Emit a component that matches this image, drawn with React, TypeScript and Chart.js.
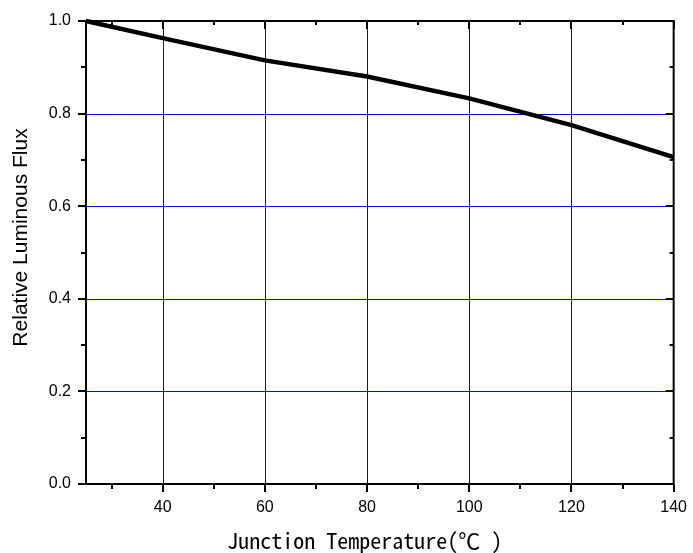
import React, { useEffect, useRef } from "react";
import { Chart, registerables } from "chart.js";

Chart.register(...registerables);

const temperatures = [25, 40, 60, 80, 100, 120, 140];
const relativeFlux = [1.0, 0.963, 0.915, 0.88, 0.833, 0.775, 0.706];
const xMajorTicks = [40, 60, 80, 100, 120, 140];
const xMinorTicks = [30, 50, 70, 90, 110, 130];
const xGridLines = [40, 60, 80, 100, 120];
const yMajorTicks = [0, 0.2, 0.4, 0.6, 0.8, 1.0];
const yMinorTicks = [0.1, 0.3, 0.5, 0.7, 0.9];
const yGridLines = [0.2, 0.4, 0.6, 0.8];
const xTitle = "Junction Temperature(\u2103 )";
const yTitle = "Relative Luminous Flux";

const gridPlugin = {
  id: "blueGrid",
  beforeDatasetsDraw(chart: any) {
    const { ctx, chartArea, scales } = chart;
    const { left, right, top, bottom } = chartArea;
    ctx.save();
    ctx.strokeStyle = "#0000ff";
    ctx.lineWidth = 1;
    ctx.beginPath();
    xGridLines.forEach((v) => {
      const px = Math.round(scales.x.getPixelForValue(v)) + 0.5;
      ctx.moveTo(px, top);
      ctx.lineTo(px, bottom);
    });
    yGridLines.forEach((v) => {
      const py = Math.round(scales.y.getPixelForValue(v)) + 0.5;
      ctx.moveTo(left, py);
      ctx.lineTo(right, py);
    });
    ctx.stroke();
    ctx.restore();
  },
};

const framePlugin = {
  id: "frame",
  afterDraw(chart: any) {
    const { ctx, chartArea, scales } = chart;
    const xs = scales.x;
    const ys = scales.y;
    const { left, right, top, bottom } = chartArea;
    ctx.save();
    ctx.strokeStyle = "#000";
    ctx.lineWidth = 2;
    ctx.strokeRect(left, top, right - left, bottom - top);
    ctx.beginPath();
    xMinorTicks.forEach((v) => {
      const px = Math.round(xs.getPixelForValue(v));
      ctx.moveTo(px, bottom);
      ctx.lineTo(px, bottom + 5);
      ctx.moveTo(px, top);
      ctx.lineTo(px, top + 4);
    });
    xMajorTicks.forEach((v) => {
      const px = Math.round(xs.getPixelForValue(v));
      ctx.moveTo(px, top);
      ctx.lineTo(px, top + 8);
    });
    yMinorTicks.forEach((v) => {
      const py = Math.round(ys.getPixelForValue(v));
      ctx.moveTo(left, py);
      ctx.lineTo(left - 5, py);
      ctx.moveTo(right, py);
      ctx.lineTo(right - 4, py);
    });
    yMajorTicks.forEach((v) => {
      const py = Math.round(ys.getPixelForValue(v));
      ctx.moveTo(right, py);
      ctx.lineTo(right - 8, py);
    });
    ctx.stroke();

    ctx.fillStyle = "#000";
    ctx.font = '22px "Noto Sans Mono CJK KR", "Liberation Mono", monospace';
    ctx.textAlign = "center";
    ctx.textBaseline = "alphabetic";
    ctx.fillText(xTitle, (left + right) / 2 - 15, 549);

    ctx.save();
    ctx.translate(27, (top + bottom) / 2 - 15);
    ctx.rotate(-Math.PI / 2);
    ctx.font = '21px "Liberation Sans", Arial, sans-serif';
    ctx.textAlign = "center";
    ctx.textBaseline = "alphabetic";
    ctx.fillText(yTitle, 0, 0);
    ctx.restore();
    ctx.restore();
  },
};

export default function App() {
  const canvasRef = useRef<HTMLCanvasElement | null>(null);

  useEffect(() => {
    const canvas = canvasRef.current;
    if (!canvas) return;
    const chart = new Chart(canvas, {
      type: "line",
      data: {
        datasets: [
          {
            data: temperatures.map((t, i) => ({ x: t, y: relativeFlux[i] })),
            borderColor: "#000",
            borderWidth: 4.5,
            pointRadius: 0,
            tension: 0,
            fill: false,
            clip: false as any,
          },
        ],
      },
      options: {
        animation: false,
        responsive: false,
        maintainAspectRatio: false,
        layout: { padding: { left: 0, right: 15, top: 21, bottom: 0 } },
        plugins: {
          legend: { display: false },
          tooltip: { enabled: false },
        },
        scales: {
          x: {
            type: "linear",
            min: 25,
            max: 140,
            afterBuildTicks: (scale: any) => {
              scale.ticks = xMajorTicks.map((v) => ({ value: v }));
            },
            afterFit: (scale: any) => {
              scale.height = 69;
            },
            border: { display: false },
            grid: {
              drawOnChartArea: false,
              color: "#000",
              lineWidth: 2,
              drawTicks: true,
              tickLength: 8,
              tickColor: "#000",
              tickWidth: 2,
            },
            ticks: {
              color: "#000",
              padding: 6,
              maxRotation: 0,
              font: { family: '"Liberation Sans", Arial, sans-serif', size: 16 },
              callback: (v: any) => String(v),
            },
          },
          y: {
            type: "linear",
            min: 0,
            max: 1,
            afterBuildTicks: (scale: any) => {
              scale.ticks = yMajorTicks.map((v) => ({ value: v }));
            },
            afterFit: (scale: any) => {
              scale.width = 86;
            },
            border: { display: false },
            grid: {
              drawOnChartArea: false,
              color: "#000",
              lineWidth: 2,
              drawTicks: true,
              tickLength: 8,
              tickColor: "#000",
              tickWidth: 2,
            },
            ticks: {
              color: "#000",
              padding: 7,
              font: { family: '"Liberation Sans", Arial, sans-serif', size: 16 },
              callback: (v: any) => Number(v).toFixed(1),
            },
          },
        },
      },
      plugins: [gridPlugin, framePlugin],
    });
    return () => chart.destroy();
  }, []);

  return (
    <div style={{ position: "fixed", left: 0, top: 0, width: 693, height: 553, background: "#fff" }}>
      <canvas ref={canvasRef} width={693} height={553} style={{ width: 693, height: 553, display: "block" }} />
    </div>
  );
}
